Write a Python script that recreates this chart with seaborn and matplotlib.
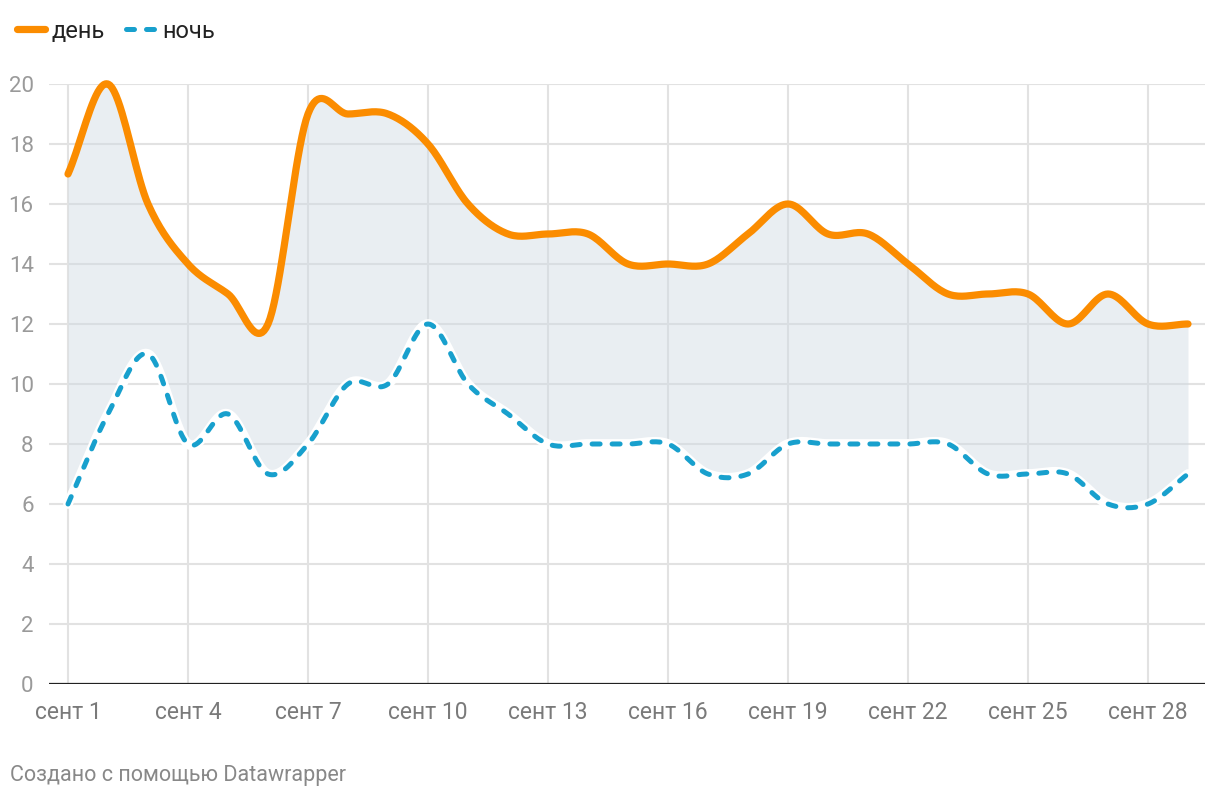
import numpy as np
import pandas as pd
import matplotlib
matplotlib.use("Agg")
import matplotlib.pyplot as plt
from matplotlib.lines import Line2D
import seaborn as sns

# данные (сентябрь, температура днём и ночью)
days = list(range(1, 30))
day_temp = [17, 20, 16, 14, 13, 12, 19, 19, 19, 18, 16, 15, 15, 15, 14,
            14, 14, 15, 16, 15, 15, 14, 13, 13, 13, 12, 13, 12, 12]
night_temp = [6, 9, 11, 8, 9, 7, 8, 10, 10, 12, 10, 9, 8, 8, 8,
              8, 7, 7, 8, 8, 8, 8, 8, 7, 7, 7, 6, 6, 7]
tick_days = [1, 4, 7, 10, 13, 16, 19, 22, 25, 28]
tick_labels = ["сент %i" % d for d in tick_days]
y_ticks = list(range(0, 21, 2))

ORANGE = "#fb8c00"
BLUE = "#18a0cd"


def catmull_rom(x, y, n=20):
    # сглаживание линии (как curved line в Datawrapper)
    x = np.asarray(x, float)
    y = np.asarray(y, float)
    m = np.zeros_like(y)
    m[1:-1] = (y[2:] - y[:-2]) / 2
    m[0] = y[1] - y[0]
    m[-1] = y[-1] - y[-2]
    xs, ys = [], []
    t = np.linspace(0, 1, n, endpoint=False)
    for i in range(len(x) - 1):
        h00 = 2 * t**3 - 3 * t**2 + 1
        h10 = t**3 - 2 * t**2 + t
        h01 = -2 * t**3 + 3 * t**2
        h11 = t**3 - t**2
        xs.append(x[i] + t * (x[i + 1] - x[i]))
        ys.append(h00 * y[i] + h10 * m[i] + h01 * y[i + 1] + h11 * m[i + 1])
    xs.append([x[-1]])
    ys.append([y[-1]])
    return np.concatenate(xs), np.concatenate(ys)


xd, yd = catmull_rom(days, day_temp)
xn, yn = catmull_rom(days, night_temp)
smooth = pd.DataFrame({"x": xd, "day": yd, "night": yn})

sns.set_theme(style="white")
plt.rcParams["font.family"] = ["Roboto", "DejaVu Sans"]

fig = plt.figure(figsize=(12.2, 8), dpi=100)
ax = fig.add_axes([49 / 1220, 116 / 800, (1205 - 49) / 1220, (684 - 84) / 800])

# заливка между линиями
ax.fill_between(smooth["x"], smooth["night"], smooth["day"],
                color="#d0dae3", alpha=0.45, lw=0, zorder=1)

# белая подложка под пунктир
sns.lineplot(data=smooth, x="x", y="night", ax=ax, color="white", lw=7,
             zorder=3, solid_capstyle="round", clip_on=False)
sns.lineplot(data=smooth, x="x", y="night", ax=ax, color=BLUE, lw=3.6,
             linestyle=(0, (1.6, 2.4)), dash_capstyle="round", zorder=4,
             clip_on=False)
sns.lineplot(data=smooth, x="x", y="day", ax=ax, color=ORANGE, lw=5.2,
             solid_capstyle="round", zorder=5, clip_on=False)

ax.set_xlim(0.525, 29.425)
ax.set_ylim(0, 20)
ax.set_xticks(tick_days)
ax.set_xticklabels(tick_labels)
ax.set_yticks(y_ticks)
ax.set_xlabel("")
ax.set_ylabel("")
ax.grid(True, color="#e2e2e2", lw=1.5, zorder=0)
ax.set_axisbelow(True)
for s in ax.spines.values():
    s.set_visible(False)
ax.axhline(0, color="#222222", lw=1.6, zorder=6)
ax.tick_params(axis="x", length=0, pad=12, labelsize=16.5, labelcolor="#7a7a7a")
ax.tick_params(axis="y", length=0, pad=11, labelsize=16, labelcolor="#9a9a9a")

handles = [
    Line2D([], [], color=ORANGE, lw=5.2, solid_capstyle="round"),
    Line2D([], [], color=BLUE, lw=3.6, linestyle=(0, (1.6, 2.4)),
           dash_capstyle="round"),
]
fig.legend(handles, ["день", "ночь"], loc="center left",
           bbox_to_anchor=(0.0, 1 - 31 / 800), ncol=2, frameon=False,
           fontsize=17, handlelength=1.2, handletextpad=0.3,
           columnspacing=0.9, labelcolor="#222222", borderpad=0.2)

fig.text(10 / 1220, 1 - 776 / 800, "Создано с помощью Datawrapper",
         fontsize=15.5, color="#888888", va="center", ha="left")

fig.savefig("out.png", dpi=100)
